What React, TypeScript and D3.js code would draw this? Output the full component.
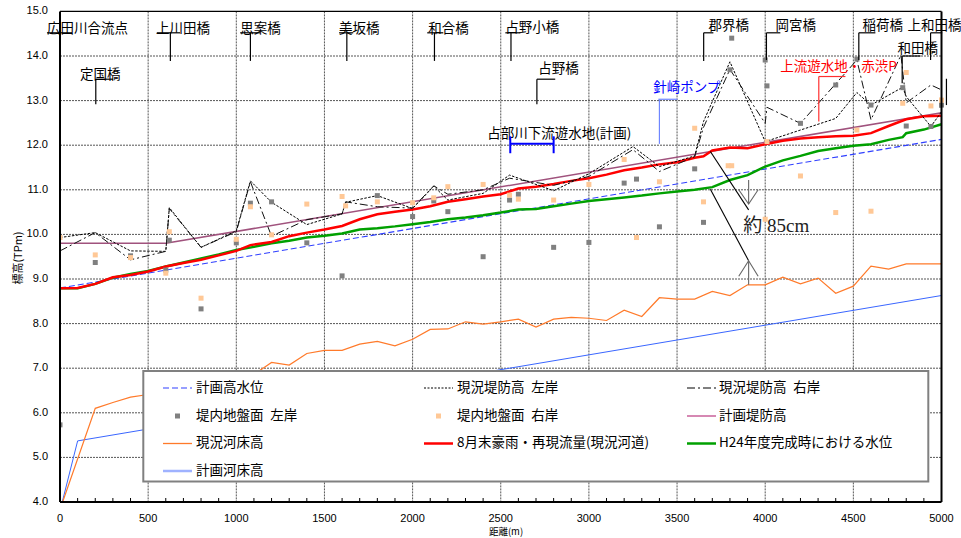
import React from "react";
import * as d3 from "d3";

// ---------- data (distance m, elevation TPm) ----------
const xTickValues = [0, 500, 1000, 1500, 2000, 2500, 3000, 3500, 4000, 4500, 5000];
const yTickValues = [4, 5, 6, 7, 8, 9, 10, 11, 12, 13, 14, 15];

const planHWL: [number, number][] = [[0, 8.8], [5000, 12.13]];
const planDike: [number, number][] = [[0, 9.8], [600, 9.8], [5000, 12.73]];
const planBed: [number, number][] = [[0, 3.8], [100, 5.37], [5000, 8.63]];

const currentBed: [number, number][] = [
  [0, 3.83], [200, 6.1], [300, 6.23], [400, 6.35], [500, 6.41], [600, 6.5], [700, 6.58], [800, 6.65],
  [900, 6.72], [1000, 6.78], [1100, 6.86], [1200, 7.13], [1300, 7.07], [1400, 7.33], [1500, 7.4],
  [1600, 7.4], [1700, 7.54], [1800, 7.6], [1900, 7.5], [2000, 7.65], [2100, 7.87], [2200, 7.88],
  [2300, 8.04], [2400, 7.99], [2500, 8.04], [2600, 8.1], [2700, 7.92], [2800, 8.1], [2900, 8.14],
  [3000, 8.12], [3100, 8.07], [3200, 8.3], [3300, 8.16], [3400, 8.58], [3500, 8.55], [3600, 8.55],
  [3700, 8.72], [3800, 8.63], [3900, 8.87], [4000, 8.87], [4100, 9.04], [4200, 8.89], [4300, 9.02],
  [4400, 8.68], [4500, 8.84], [4600, 9.29], [4700, 9.22], [4800, 9.34], [4900, 9.34], [5000, 9.34],
];

const floodAug: [number, number][] = [
  [0, 8.79], [100, 8.8], [200, 8.89], [300, 9.04], [400, 9.09], [500, 9.17], [600, 9.28], [700, 9.36],
  [800, 9.43], [900, 9.53], [1000, 9.63], [1080, 9.76], [1200, 9.83], [1300, 9.96], [1400, 10.04],
  [1500, 10.11], [1600, 10.19], [1700, 10.34], [1800, 10.45], [1900, 10.51], [2000, 10.56],
  [2100, 10.63], [2200, 10.73], [2300, 10.79], [2400, 10.85], [2500, 10.9], [2600, 11.03],
  [2700, 11.07], [2800, 11.13], [2900, 11.2], [3000, 11.26], [3100, 11.34], [3200, 11.44],
  [3300, 11.5], [3400, 11.57], [3500, 11.62], [3600, 11.72], [3650, 11.75], [3700, 11.88],
  [3800, 11.95], [3900, 11.93], [4000, 12.02], [4100, 12.1], [4200, 12.15], [4300, 12.18],
  [4400, 12.2], [4500, 12.21], [4600, 12.27], [4700, 12.43], [4800, 12.58], [4900, 12.65], [5000, 12.66],
];

const h24Level: [number, number][] = [
  [0, 8.79], [100, 8.79], [200, 8.89], [300, 9.03], [400, 9.11], [500, 9.18], [600, 9.28], [700, 9.37],
  [800, 9.46], [900, 9.55], [1000, 9.65], [1100, 9.72], [1200, 9.8], [1300, 9.86], [1400, 9.93],
  [1500, 9.97], [1600, 10.02], [1700, 10.11], [1800, 10.14], [1900, 10.18], [2000, 10.23],
  [2100, 10.28], [2200, 10.34], [2300, 10.38], [2400, 10.43], [2500, 10.49], [2600, 10.56],
  [2700, 10.57], [2800, 10.63], [2900, 10.69], [3000, 10.75], [3100, 10.79], [3200, 10.83],
  [3300, 10.87], [3400, 10.92], [3500, 10.96], [3600, 11.0], [3700, 11.06], [3800, 11.22],
  [3900, 11.33], [4000, 11.52], [4100, 11.66], [4200, 11.76], [4300, 11.87], [4400, 11.93],
  [4500, 11.99], [4600, 12.02], [4700, 12.12], [4780, 12.18], [4800, 12.27], [4900, 12.35], [5000, 12.47],
];

const dikeLeft: [number, number][] = [
  [0, 9.93], [200, 10.04], [400, 9.63], [600, 9.62], [620, 10.6], [800, 9.71], [1000, 10.08],
  [1080, 11.2], [1200, 10.72], [1400, 10.22], [1600, 10.46], [1620, 10.72], [1800, 10.87],
  [2000, 10.58], [2120, 11.08], [2200, 10.77], [2400, 10.92], [2550, 11.33], [2800, 10.98],
  [3000, 11.36], [3250, 11.97], [3400, 11.52], [3600, 11.76], [3650, 12.53], [3800, 13.87],
  [4000, 12.08], [4400, 12.6], [4520, 13.18], [4600, 12.9], [4780, 13.3], [4800, 13.09],
  [4940, 12.42], [5000, 12.75],
];

const dikeRight: [number, number][] = [
  [0, 9.63], [200, 10.04], [400, 9.43], [600, 9.62], [620, 10.58], [800, 9.71], [1000, 10.06],
  [1080, 11.18], [1200, 9.96], [1400, 10.33], [1600, 10.46], [1620, 10.73], [1800, 10.62],
  [2000, 10.59], [2120, 11.09], [2200, 10.9], [2400, 11.0], [2550, 11.26], [2800, 11.1],
  [3000, 11.3], [3250, 11.9], [3400, 11.41], [3600, 11.74], [3650, 12.4], [3800, 13.7],
  [4000, 12.49], [4010, 12.85], [4200, 12.49], [4520, 13.91], [4600, 12.57], [4770, 14.02],
  [4800, 12.95], [4940, 13.35], [5000, 13.24],
];

const groundLeft: [number, number][] = [
  [0, 5.73], [200, 9.37], [400, 9.52], [600, 9.2], [620, 9.87], [800, 8.33], [1000, 9.81],
  [1080, 10.7], [1200, 10.73], [1400, 9.81], [1600, 9.07], [1800, 10.87], [2000, 10.4],
  [2120, 10.75], [2200, 10.51], [2400, 9.5], [2550, 10.77], [2600, 10.9], [2800, 9.71],
  [3000, 9.82], [3200, 11.15], [3270, 11.24], [3400, 10.17], [3600, 11.47], [3650, 10.27],
  [3800, 13.69], [3810, 14.4], [4000, 13.91], [4010, 13.33], [4200, 12.49], [4400, 13.35],
  [4520, 13.93], [4600, 12.9], [4780, 13.29], [4800, 12.43], [4940, 12.42], [5000, 12.9],
];

const groundRight: [number, number][] = [
  [0, 9.93], [200, 9.54], [400, 9.48], [600, 9.13], [620, 10.06], [800, 8.57], [1000, 9.89],
  [1080, 10.62], [1200, 9.99], [1400, 10.68], [1600, 10.85], [1620, 10.64], [1800, 10.73],
  [2000, 10.71], [2120, 10.82], [2200, 11.07], [2400, 11.12], [2550, 10.88], [2600, 10.79],
  [2800, 10.77], [3000, 11.12], [3200, 11.68], [3270, 9.93], [3400, 11.18], [3600, 12.38],
  [3650, 10.73], [3790, 11.54], [3810, 11.54], [4000, 10.34], [4010, 12.08], [4200, 11.31],
  [4400, 10.49], [4520, 12.34], [4600, 10.52], [4780, 12.94], [4800, 13.63], [4940, 12.88],
  [5000, 13.01],
];

// ---------- annotations (in data coordinates) ----------
type Bridge = { name: string; lx: number; ly: number; vx: number; vTop: number; vBot: number; h1: number; h2: number };
const bridges: Bridge[] = [
  { name: "広田川合流点", lx: -74, ly: 14.6, vx: 0, vTop: 14.52, vBot: 14.52, h1: -74, h2: 68 },
  { name: "定国橋", lx: 114, ly: 13.57, vx: 203, vTop: 13.48, vBot: 12.92, h1: 203, h2: 301 },
  { name: "上川田橋", lx: 545, ly: 14.6, vx: 626, vTop: 14.52, vBot: 13.89, h1: 549, h2: 681 },
  { name: "思案橋", lx: 1022, ly: 14.6, vx: 1080, vTop: 14.52, vBot: 13.89, h1: 1022, h2: 1135 },
  { name: "美坂橋", lx: 1583, ly: 14.6, vx: 1627, vTop: 14.52, vBot: 13.89, h1: 1583, h2: 1663 },
  { name: "和合橋", lx: 2089, ly: 14.6, vx: 2124, vTop: 14.52, vBot: 13.89, h1: 2083, h2: 2174 },
  { name: "占野小橋", lx: 2526, ly: 14.62, vx: 2558, vTop: 14.52, vBot: 13.89, h1: 2526, h2: 2611 },
  { name: "占野橋", lx: 2713, ly: 13.71, vx: 2705, vTop: 13.48, vBot: 12.92, h1: 2705, h2: 2809 },
  { name: "郡界橋", lx: 3678, ly: 14.67, vx: 3651, vTop: 14.52, vBot: 13.89, h1: 3651, h2: 3706 },
  { name: "岡宮橋", lx: 4058, ly: 14.67, vx: 4007, vTop: 14.52, vBot: 13.91, h1: 4007, h2: 4086 },
  { name: "稲荷橋", lx: 4552, ly: 14.67, vx: 4531, vTop: 14.52, vBot: 13.91, h1: 4531, h2: 4625 },
  { name: "上和田橋", lx: 4807, ly: 14.67, vx: 4938, vTop: 14.52, vBot: 13.91, h1: 4938, h2: 5004 },
  { name: "和田橋", lx: 4750, ly: 14.14, vx: 4777, vTop: 14.0, vBot: 13.39, h1: 4777, h2: 4881 },
];

const seriesNames = [
  "計画高水位", "現況堤防高\u2002左岸", "現況堤防高\u2002右岸",
  "堤内地盤面\u2002左岸", "堤内地盤面\u2002右岸", "計画堤防高",
  "現況河床高", "8月末豪雨・再現流量(現況河道)", "H24年度完成時における水位",
  "計画河床高",
];

export default function App() {
  const x = d3.scaleLinear().domain([0, 5000]).range([60, 941.5]);
  const y = d3.scaleLinear().domain([4, 15]).range([502, 11.4]);
  const line = d3.line<[number, number]>().x((d) => x(d[0])).y((d) => y(d[1]));
  const minorTicks = d3.range(100, 5000, 100).filter((v) => v % 500 !== 0);

  const tickFont = "'Liberation Sans', Arial, sans-serif";
  const jpFont = "'Noto Sans CJK JP', sans-serif";

  const legendCols = [163, 424, 687];
  const legendText = [196, 457, 719];
  const legendRows = [388, 416, 443.5, 471];

  const legendSample = (i: number) => {
    const c = i % 3;
    const r = Math.floor(i / 3);
    const x0 = legendCols[c];
    const yy = legendRows[r];
    const w = 29;
    switch (i) {
      case 0: return <line x1={x0} x2={x0 + w} y1={yy} y2={yy} stroke="#3040ff" strokeWidth={1.2} strokeDasharray="6,3" />;
      case 1: return <line x1={x0} x2={x0 + w} y1={yy} y2={yy} stroke="#000" strokeWidth={1} strokeDasharray="2,1.5" />;
      case 2: return <line x1={x0} x2={x0 + w} y1={yy} y2={yy} stroke="#000" strokeWidth={1} strokeDasharray="8,3,2,3" />;
      case 3: return <rect x={x0 + w / 2 - 2.5} y={yy - 2.5} width={5} height={5} fill="#808080" />;
      case 4: return <rect x={x0 + w / 2 - 2.5} y={yy - 2.5} width={5} height={5} fill="#ffc896" />;
      case 5: return <line x1={x0} x2={x0 + w} y1={yy} y2={yy} stroke="#c8609a" strokeWidth={1.5} />;
      case 6: return <line x1={x0} x2={x0 + w} y1={yy} y2={yy} stroke="#ff7a2a" strokeWidth={1.3} />;
      case 7: return <line x1={x0} x2={x0 + w} y1={yy} y2={yy} stroke="#ff0000" strokeWidth={2.5} />;
      case 8: return <line x1={x0} x2={x0 + w} y1={yy} y2={yy} stroke="#00a000" strokeWidth={2.5} />;
      default: return <line x1={x0} x2={x0 + w} y1={yy} y2={yy} stroke="#9fb2ff" strokeWidth={2.5} />;
    }
  };

  return (
    <svg width={961} height={538} style={{ position: "absolute", left: 0, top: 0, background: "#fff" }} fontFamily={jpFont}>
      <defs>
        <clipPath id="plotClip">
          <rect x={60} y={11.4} width={881.5} height={490.6} />
        </clipPath>
      </defs>
      <rect x={0} y={0} width={961} height={538} fill="#fff" />

      {/* grid */}
      {yTickValues.filter((v) => v > 4 && v < 15).map((v) => (
        <line key={"gy" + v} x1={60} x2={941.5} y1={y(v)} y2={y(v)} stroke="#555" strokeWidth={1} strokeDasharray="2,1" />
      ))}
      {xTickValues.filter((v) => v > 0 && v < 5000).map((v) => (
        <line key={"gx" + v} x1={x(v)} x2={x(v)} y1={11.4} y2={502} stroke="#555" strokeWidth={1} strokeDasharray="2,1" />
      ))}

      {/* series */}
      <g clipPath="url(#plotClip)" fill="none">
        <path d={line(planBed)!} stroke="#3a66ff" strokeWidth={1} />
        <path d={line(currentBed)!} stroke="#ff7a2a" strokeWidth={1.2} />
        <path d={line(planHWL)!} stroke="#3040ff" strokeWidth={1.1} strokeDasharray="6,3" />
        <path d={line(h24Level)!} stroke="#00a000" strokeWidth={2.5} />
        <path d={line(planDike)!} stroke="#a0527d" strokeWidth={1.5} />
        <path d={line(floodAug)!} stroke="#ff0000" strokeWidth={2.5} />
        <path d={line(dikeLeft)!} stroke="#000" strokeWidth={1} strokeDasharray="2.5,1.5" />
        <path d={line(dikeRight)!} stroke="#111" strokeWidth={1} strokeDasharray="8,3,2,3" />
        {groundLeft.map((d, i) => (
          <rect key={"gl" + i} x={x(d[0]) - 2.5} y={y(d[1]) - 2.5} width={5} height={5} fill="#808080" />
        ))}
        {groundRight.map((d, i) => (
          <rect key={"gr" + i} x={x(d[0]) - 2.5} y={y(d[1]) - 2.5} width={5} height={5} fill="#ffc896" />
        ))}
      </g>
      {groundLeft.filter((d) => d[0] === 5000).map((d, i) => (
        <rect key={"glr" + i} x={x(d[0]) - 2.5} y={y(d[1]) - 2.5} width={5} height={5} fill="#808080" />
      ))}
      {groundRight.filter((d) => d[0] === 5000).map((d, i) => (
        <rect key={"grr" + i} x={x(d[0]) - 2.5} y={y(d[1]) - 2.5} width={5} height={5} fill="#ffc896" />
      ))}

      {/* 85cm annotation */}
      <g stroke="#000" strokeWidth={1.1} fill="none">
        <line x1={x(3689)} y1={y(11.86)} x2={x(3906)} y2={y(10.55)} />
        <line x1={x(3689)} y1={y(11.01)} x2={x(3906)} y2={y(9.41)} />
      </g>
      <g stroke="#666" strokeWidth={1.1} fill="none">
        <line x1={x(3906)} y1={y(11.22)} x2={x(3906)} y2={y(10.68)} />
        <polyline points={`${x(3850)},${y(11.0)} ${x(3906)},${y(10.68)} ${x(3960)},${y(11.0)}`} />
        <line x1={x(3906)} y1={y(8.87)} x2={x(3906)} y2={y(9.41)} />
        <polyline points={`${x(3850)},${y(9.06)} ${x(3906)},${y(9.41)} ${x(3960)},${y(9.06)}`} />
      </g>
      <text x={x(3876)} y={y(10.15)} fontSize={19} dominantBaseline="middle" fill="#222"
        fontFamily="'Liberation Serif', 'DejaVu Serif', 'Noto Sans CJK JP', serif">約 85cm</text>

      {/* bridge labels */}
      {bridges.map((b) => (
        <g key={b.name}>
          <text x={x(b.lx)} y={y(b.ly)} fontSize={13.5} dominantBaseline="middle" fill="#000">{b.name}</text>
          <line x1={x(b.h1)} x2={x(b.h2)} y1={y(b.vTop)} y2={y(b.vTop)} stroke="#000" strokeWidth={1.2} />
          {b.vBot < b.vTop && (
            <line x1={x(b.vx)} x2={x(b.vx)} y1={y(b.vTop)} y2={y(b.vBot)} stroke="#000" strokeWidth={1.2} />
          )}
        </g>
      ))}
      <line x1={x(5028)} x2={x(5028)} y1={y(13.49)} y2={y(12.9)} stroke="#000" strokeWidth={1.2} />

      {/* facility labels */}
      <text x={x(4086)} y={y(13.74)} fontSize={13.5} dominantBaseline="middle" fill="#ff0000">上流遊水地・赤渋P</text>
      <line x1={x(4304)} x2={x(4455)} y1={y(13.54)} y2={y(13.54)} stroke="#ff3030" strokeWidth={1.2} />
      <line x1={x(4304)} x2={x(4304)} y1={y(13.54)} y2={y(12.53)} stroke="#ff3030" strokeWidth={1.2} />

      <text x={x(3365)} y={y(13.27)} fontSize={13.5} dominantBaseline="middle" fill="#0000ff">針崎ポンプ</text>
      <line x1={x(3394)} x2={x(3502)} y1={y(13.03)} y2={y(13.03)} stroke="#6f86ff" strokeWidth={1.2} />
      <line x1={x(3400)} x2={x(3400)} y1={y(13.03)} y2={y(12.03)} stroke="#6f86ff" strokeWidth={1.2} />

      <text x={x(2423)} y={y(12.25)} fontSize={13.5} dominantBaseline="middle" fill="#000">占部川下流遊水地(計画)</text>
      <g stroke="#0000ff" strokeWidth={2}>
        <line x1={x(2554)} x2={x(2800)} y1={y(12.03)} y2={y(12.03)} />
        <line x1={x(2554)} x2={x(2554)} y1={y(12.2)} y2={y(11.82)} />
        <line x1={x(2800)} x2={x(2800)} y1={y(12.2)} y2={y(11.82)} />
      </g>

      {/* legend */}
      <rect x={143.3} y={371} width={785} height={110.5} fill="#fff" stroke="#808080" strokeWidth={2} />
      {seriesNames.map((name, i) => (
        <g key={name}>
          {legendSample(i)}
          <text x={legendText[i % 3]} y={legendRows[Math.floor(i / 3)]} fontSize={13.5} dominantBaseline="middle" fill="#000">{name}</text>
        </g>
      ))}

      {/* frame */}
      <line x1={60} x2={941.5} y1={11.4} y2={11.4} stroke="#000" strokeWidth={1.2} />
      <line x1={941.5} x2={941.5} y1={11.4} y2={502} stroke="#000" strokeWidth={2} />
      <line x1={60} x2={60} y1={11.4} y2={502} stroke="#000" strokeWidth={2} />
      <line x1={60} x2={941.5} y1={502} y2={502} stroke="#000" strokeWidth={2} />
      {minorTicks.map((v) => (
        <line key={"mt" + v} x1={x(v)} x2={x(v)} y1={502} y2={498} stroke="#000" strokeWidth={1} />
      ))}

      {/* axes labels */}
      {yTickValues.map((v) => (
        <text key={"yl" + v} x={48} y={y(v)} fontSize={11} textAnchor="end" dominantBaseline="middle" fontFamily={tickFont} fill="#000">
          {v.toFixed(1)}
        </text>
      ))}
      {xTickValues.map((v) => (
        <text key={"xl" + v} x={x(v)} y={522} fontSize={11} textAnchor="middle" fontFamily={tickFont} fill="#000">
          {v}
        </text>
      ))}
      <text x={506} y={534.5} fontSize={9.5} textAnchor="middle" fill="#000">距離(m)</text>
      <text transform="translate(19,258) rotate(-90)" fontSize={11} textAnchor="middle" dominantBaseline="middle" fill="#000">標高(TPm)</text>
    </svg>
  );
}
